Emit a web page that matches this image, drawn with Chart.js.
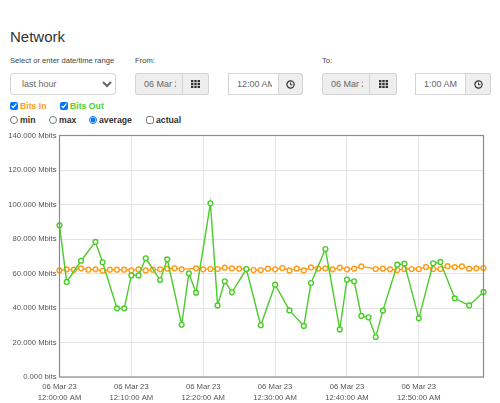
<!DOCTYPE html>
<html>
<head>
<meta charset="utf-8">
<title>Network</title>
<script src="https://cdn.jsdelivr.net/npm/chart.js@4"></script>
<style>
  html, body { margin: 0; padding: 0; background: #fff; overflow: hidden; }
  body { width: 500px; height: 403px; position: relative; font-family: "Liberation Sans", Arial, sans-serif; color: #333; }
  .abs { position: absolute; white-space: nowrap; }
  h1 { margin: 0; font-size: 15px; font-weight: 400; line-height: 20px; left: 10px; top: 27px; }
  .lbl { font-size: 7.6px; line-height: 12px; color: #444; top: 55px; }
  select, input.txt { box-sizing: border-box; font: 9px "Liberation Sans", Arial, sans-serif; color: #666; border: 1px solid #d4d4d4; height: 22px; top: 73px; background: #fff; margin: 0; outline: 0; }
  select { left: 10px; width: 106px; border-radius: 3px; padding: 0 0 0 7px; }
  input.txt { padding: 0 6px 0 8px; }
  input.dis { background: #eee; border-radius: 3px 0 0 3px; }
  .btn { box-sizing: border-box; height: 22px; top: 73px; width: 26px; background: #eee; border: 1px solid #d4d4d4; border-left: 0; border-radius: 0 3px 3px 0; display: flex; align-items: center; justify-content: center; }
  .chk { font-size: 8.7px; font-weight: 700; line-height: 13px; }
  input.box { position: absolute; margin: 0; width: 8px; height: 8px; }
  canvas { position: absolute; left: 0; top: 125px; }
</style>
</head>
<body>
<h1 class="abs">Network</h1>
<div class="abs lbl" style="left:10px">Select or enter date/time range</div>
<div class="abs lbl" style="left:135px">From:</div>
<div class="abs lbl" style="left:322px">To:</div>

<select class="abs"><option>last hour</option></select>

<input class="abs txt dis" style="left:135px;width:48px" value="06 Mar 23" disabled>
<div class="abs btn" style="left:183px"><svg width="9" height="8"><g id="grid" fill="#333"><rect x="0" y="0" width="2.4" height="2.2"/><rect x="3.3" y="0" width="2.4" height="2.2"/><rect x="6.6" y="0" width="2.4" height="2.2"/><rect x="0" y="2.9" width="2.4" height="2.2"/><rect x="3.3" y="2.9" width="2.4" height="2.2"/><rect x="6.6" y="2.9" width="2.4" height="2.2"/><rect x="0" y="5.8" width="2.4" height="2.2"/><rect x="3.3" y="5.8" width="2.4" height="2.2"/><rect x="6.6" y="5.8" width="2.4" height="2.2"/></g></svg></div>
<input class="abs txt" style="left:228px;width:51px" value="12:00 AM">
<div class="abs btn" style="left:279px;width:24px"><svg width="9" height="9"><circle cx="4.5" cy="4.5" r="3.6" fill="none" stroke="#333" stroke-width="1.2"/><path d="M4.5 2.5V4.8H6.5" fill="none" stroke="#333"/></svg></div>

<input class="abs txt dis" style="left:322px;width:48px" value="06 Mar 23" disabled>
<div class="abs btn" style="left:370px;width:27px"><svg width="9" height="8"><use href="#grid"/></svg></div>
<input class="abs txt" style="left:415px;width:51px" value="1:00 AM">
<div class="abs btn" style="left:466px;width:25px"><svg width="9" height="9"><circle cx="4.5" cy="4.5" r="3.6" fill="none" stroke="#333" stroke-width="1.2"/><path d="M4.5 2.5V4.8H6.5" fill="none" stroke="#333"/></svg></div>

<input class="box" type="checkbox" checked style="left:10px;top:102px">
<div class="abs chk" style="left:20px;top:100px;color:#ff9a1f">Bits In</div>
<input class="box" type="checkbox" checked style="left:60px;top:102px">
<div class="abs chk" style="left:70px;top:100px;color:#4fcf2a">Bits Out</div>

<input class="box" type="radio" name="m" style="left:10px;top:116px">
<div class="abs chk" style="left:20px;top:114px">min</div>
<input class="box" type="radio" name="m" style="left:49px;top:116px">
<div class="abs chk" style="left:59px;top:114px">max</div>
<input class="box" type="radio" name="m" checked style="left:89px;top:116px">
<div class="abs chk" style="left:99px;top:114px">average</div>
<input class="box" type="checkbox" style="left:146px;top:116px">
<div class="abs chk" style="left:156px;top:114px">actual</div>

<canvas id="networkChart" width="500" height="278"></canvas>

<script>
// minutes after 12:00 AM
const bitsInMinutes = [0,1,2,3,4,5,6,7,8,9,10,11,12,13,14,15,16,17,19,20,21,22,23,24,25,26,27,28,29,30,31,32,33,34,35,36,37,38,39,40,41,42,44,45,46,47,48,49,50,51,52,53,54,55,56,57,58,59];
const bitsInValues = [61.8,62.4,62.2,63.0,62.2,62.4,61.6,62.2,62.2,62.2,61.8,62.4,61.8,62.2,62.4,62.8,63.0,62.4,63.0,62.4,62.6,62.6,63.4,63.0,62.8,62.4,62.0,62.0,62.8,62.4,63.2,61.8,62.8,61.8,63.5,62.8,63.0,62.4,63.4,62.4,62.8,64.1,62.6,62.8,62.4,62.0,62.6,62.6,62.6,63.7,62.6,62.6,64.3,63.7,64.1,62.8,63.0,63.2];

const bitsOutMinutes = [0,1,3,5,6,8,9,10,11,12,14,15,17,18,19,21,22,23,24,26,28,30,32,34,35,37,39,40,41,42,43,44,45,47,48,50,52,53,55,57,59];
const bitsOutValues = [87.9,55.1,67.4,78.3,66.5,39.8,39.8,58.9,58.9,68.8,56.2,68.2,30.3,60.1,48.9,100.7,41.5,55.5,49.1,62.6,30.0,53.5,38.6,29.6,54.5,74.2,27.6,56.4,55.5,35.4,34.6,23.2,38.5,65.1,65.7,34.0,65.9,66.7,45.6,41.5,49.3];

const yTickValues = [0,20,40,60,80,100,120,140];
const yTickLabels = ['0.000 bits','20.000 Mbits','40.000 Mbits','60.000 Mbits','80.000 Mbits','100.000 Mbits','120.000 Mbits','140.000 Mbits'];
const xTickDate = '06 Mar 23';
const xTickTimes = ['12:00:00 AM','12:10:00 AM','12:20:00 AM','12:30:00 AM','12:40:00 AM','12:50:00 AM'];

function toPoints(minutes, values) {
    return minutes.map((m, i) => ({ x: m, y: values[i] }));
}

function createDataset(label, color, minutes, values) {
    return {
        label: label,
        data: toPoints(minutes, values),
        borderColor: color,
        borderWidth: 1.4,
        backgroundColor: '#fff',
        pointBackgroundColor: '#fff',
        pointBorderColor: color,
        pointBorderWidth: 1.4,
        pointRadius: 2.4,
        tension: 0,
        clip: false
    };
}

// frame round the plot, the axes only give the left and bottom side
const framePlugin = {
    id: 'frame',
    afterDatasetsDraw(chart) {
        const { ctx, chartArea } = chart;
        ctx.save();
        ctx.strokeStyle = '#8a8a8a';
        ctx.lineWidth = 1.2;
        ctx.strokeRect(chartArea.left, chartArea.top, chartArea.right - chartArea.left, chartArea.bottom - chartArea.top);
        ctx.restore();
    }
};

new Chart(document.getElementById('networkChart').getContext('2d'), {
    type: 'line',
    data: {
        datasets: [
            createDataset('Bits Out', '#4ccc2a', bitsOutMinutes, bitsOutValues),
            createDataset('Bits In', '#ff9d1a', bitsInMinutes, bitsInValues)
        ]
    },
    options: {
        responsive: false,
        animation: false,
        layout: { padding: { top: 10.5, right: 16.5, left: 0, bottom: 0 } },
        plugins: { legend: { display: false }, tooltip: { enabled: false } },
        scales: {
            x: {
                type: 'linear',
                min: 0,
                max: 59,
                afterFit(scale) { scale.height = 26; },
                grid: { color: '#e4e4e4', drawTicks: false },
                border: { display: false },
                ticks: {
                    stepSize: 10,
                    includeBounds: false,
                    maxRotation: 0,
                    padding: 4,
                    color: '#555',
                    font: { family: 'Liberation Sans', size: 7.7, lineHeight: 1.45 },
                    callback: (value) => [xTickDate, xTickTimes[value / 10]]
                }
            },
            y: {
                min: 0,
                max: 140,
                afterFit(scale) { scale.width = 59.5; },
                grid: { color: '#e4e4e4', drawTicks: false },
                border: { display: false },
                ticks: {
                    stepSize: 20,
                    padding: 3,
                    color: '#555',
                    font: { family: 'Liberation Sans', size: 7.7 },
                    callback: (value) => yTickLabels[yTickValues.indexOf(value)]
                }
            }
        }
    },
    plugins: [framePlugin]
});
</script>
</body>
</html>
